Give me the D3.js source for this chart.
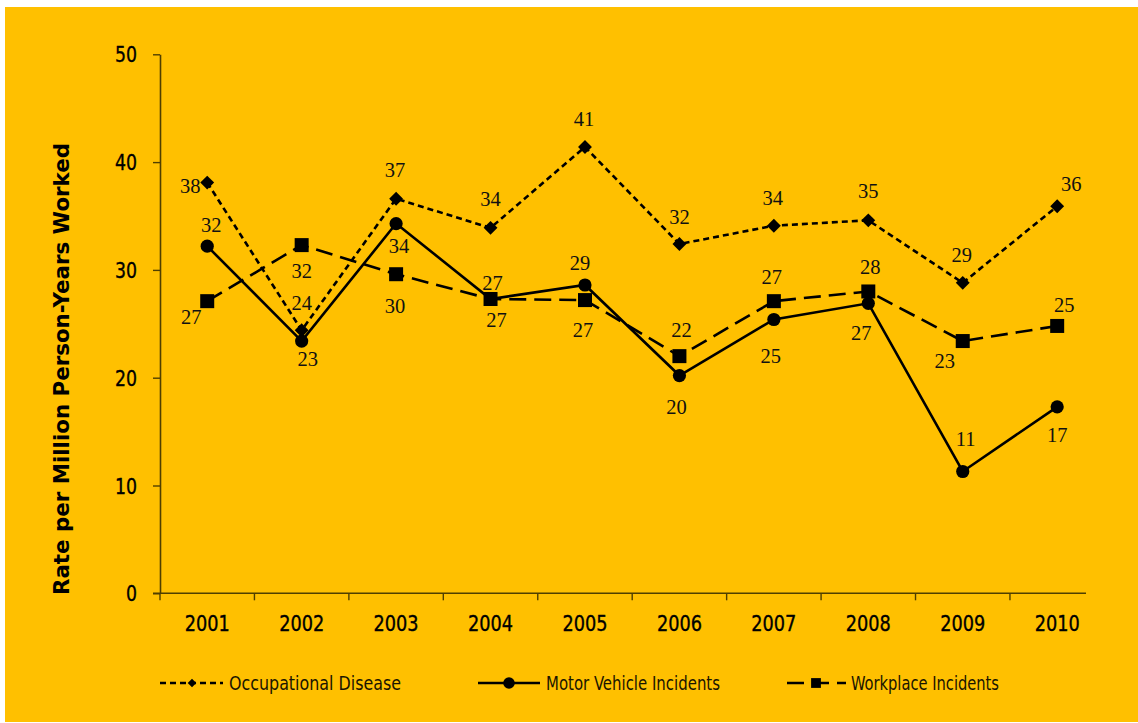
<!DOCTYPE html>
<html>
<head>
<meta charset="utf-8">
<script src="https://cdn.jsdelivr.net/npm/d3@7"></script>
<style>
  html, body { margin: 0; padding: 0; background: #ffffff; }
  svg { display: block; }
</style>
</head>
<body>
<svg id="chart" width="1138" height="723"></svg>
<script>
// Rates per million person-years worked, 2001–2010
const years = ["2001", "2002", "2003", "2004", "2005", "2006", "2007", "2008", "2009", "2010"];
const occupationalDisease = [38.1, 24.4, 36.6, 33.9, 41.4, 32.4, 34.1, 34.6, 28.8, 35.9];
const motorVehicleIncidents = [32.2, 23.4, 34.3, 27.3, 28.6, 20.2, 25.4, 26.9, 11.3, 17.3];
const workplaceIncidents = [27.1, 32.3, 29.6, 27.3, 27.2, 22.0, 27.1, 28.0, 23.4, 24.8];
const yTicks = [0, 10, 20, 30, 40, 50];
const seriesNames = ["Occupational Disease", "Motor Vehicle Incidents", "Workplace Incidents"];
const yTitle = "Rate per Million Person-Years Worked";

// Label placement (dx, dy from each marker centre to its label centre)
const labelShift = {
  occ: [[-17, 4], [0, -27], [-1, -29], [0, -29], [-1, -28], [0, -27], [-1, -28], [0, -29], [-1, -28], [14, -22]],
  mv:  [[4, -21], [6, 18], [3, 23], [2, -16], [-5, -22], [-3, 32], [-3, 37], [-7, 30], [3, -32], [0, 28]],
  wp:  [[-16, 16], [0, 26], [-1, 32], [6, 21], [-2, 30], [2, -26], [-2, -24], [2, -24], [-18, 20], [7, -21]]
};

const svg = d3.select("#chart");

// panel background
svg.append("rect")
  .attr("x", 5).attr("y", 7)
  .attr("width", 1133).attr("height", 715)
  .attr("fill", "#FFC000");

const x = d3.scaleBand().domain(years).range([160, 1104.4]).padding(0);
const y = d3.scaleLinear().domain([0, 50]).range([593.3, 54.3]);
const cx = d => x(d) + x.bandwidth() / 2;

const axisColor = "#4f3f00";
const tickFont = "'DejaVu Sans Condensed', 'DejaVu Sans', sans-serif";

// y axis
const yAxis = svg.append("g")
  .attr("transform", "translate(160,0)")
  .call(d3.axisLeft(y).tickValues(yTicks).tickSize(7).tickSizeOuter(0).tickPadding(16));
yAxis.select(".domain").attr("stroke", axisColor).attr("stroke-width", 1.6);
yAxis.selectAll(".tick line").attr("stroke", axisColor).attr("stroke-width", 1.4);
yAxis.selectAll(".tick text")
  .attr("font-family", tickFont)
  .attr("font-size", 21)
  .attr("fill", "#000")
  .attr("stroke", "#000")
  .attr("stroke-width", 0.35)
  .attr("dy", "0.36em")
  .attr("textLength", 22)
  .attr("lengthAdjust", "spacingAndGlyphs")
  .filter(d => d === 0)
  .attr("textLength", 11);

// x axis: ticks between categories, labels under each category
const xAxis = svg.append("g").attr("transform", "translate(0,593.3)");
xAxis.append("line")
  .attr("x1", 153).attr("x2", 1086)
  .attr("stroke", axisColor).attr("stroke-width", 1.6);
xAxis.selectAll("line.tick")
  .data(years)
  .join("line")
  .attr("class", "tick")
  .attr("x1", d => x(d)).attr("x2", d => x(d))
  .attr("y1", 0).attr("y2", 7)
  .attr("stroke", axisColor).attr("stroke-width", 1.4);
xAxis.selectAll("text")
  .data(years)
  .join("text")
  .attr("x", cx)
  .attr("y", 38)
  .attr("text-anchor", "middle")
  .attr("font-family", tickFont)
  .attr("font-size", 22)
  .attr("fill", "#000")
  .attr("stroke", "#000")
  .attr("stroke-width", 0.35)
  .attr("textLength", 45)
  .attr("lengthAdjust", "spacingAndGlyphs")
  .text(d => d);

// y axis title
svg.append("text")
  .attr("transform", "translate(69,369) rotate(-90)")
  .attr("text-anchor", "middle")
  .attr("font-family", "'DejaVu Sans', sans-serif")
  .attr("font-weight", "bold")
  .attr("font-size", 21)
  .attr("fill", "#000")
  .attr("textLength", 452)
  .attr("lengthAdjust", "spacingAndGlyphs")
  .text(yTitle);

const series = [
  { key: "occ", name: seriesNames[0], values: occupationalDisease, dash: "6,4", marker: "diamond" },
  { key: "mv", name: seriesNames[1], values: motorVehicleIncidents, dash: null, marker: "circle" },
  { key: "wp", name: seriesNames[2], values: workplaceIncidents, dash: "17,8", marker: "square" }
];

const line = d3.line().x((d, i) => cx(years[i])).y(d => y(d));

function drawMarker(g, type, px, py, scale) {
  if (type === "circle") {
    g.append("circle").attr("cx", px).attr("cy", py).attr("r", 6.6 * scale).attr("fill", "#000");
  } else if (type === "square") {
    g.append("path")
      .attr("d", d3.symbol(d3.symbolSquare, 196 * scale * scale)())
      .attr("transform", `translate(${px},${py})`)
      .attr("fill", "#000");
  } else {
    g.append("path")
      .attr("d", d3.symbol(d3.symbolSquare, 96 * scale * scale)())
      .attr("transform", `translate(${px},${py}) rotate(45)`)
      .attr("fill", "#000");
  }
}

const fmt = d3.format(".0f");

series.forEach(s => {
  const g = svg.append("g");
  g.append("path")
    .datum(s.values)
    .attr("d", line)
    .attr("fill", "none")
    .attr("stroke", "#000")
    .attr("stroke-width", 2.6)
    .attr("stroke-dasharray", s.dash);
  s.values.forEach((v, i) => drawMarker(g, s.marker, cx(years[i]), y(v), 1));
});

// value labels
series.forEach(s => {
  svg.append("g")
    .selectAll("text")
    .data(s.values)
    .join("text")
    .attr("x", (v, i) => cx(years[i]) + labelShift[s.key][i][0])
    .attr("y", (v, i) => y(v) + labelShift[s.key][i][1] + 6.8)
    .attr("text-anchor", "middle")
    .attr("font-family", "'Liberation Serif', 'Times New Roman', serif")
    .attr("font-size", 20.5)
    .attr("fill", "#111")
    .text(v => fmt(v));
});

// legend
const legendY = 683;
const legendItems = [
  { s: series[0], x0: 160, x1: 223, mx: 192, tx: 229, tw: 172, ms: 0.62 },
  { s: series[1], x0: 478, x1: 540, mx: 509, tx: 546, tw: 174, ms: 0.88 },
  { s: series[2], x0: 787, x1: 846, mx: 816, tx: 851, tw: 148, ms: 0.7 }
];
legendItems.forEach(it => {
  const g = svg.append("g");
  g.append("line")
    .attr("x1", it.x0).attr("x2", it.x1)
    .attr("y1", legendY).attr("y2", legendY)
    .attr("stroke", "#000").attr("stroke-width", 2.6)
    .attr("stroke-dasharray", it.s.dash);
  drawMarker(g, it.s.marker, it.mx, legendY, it.ms);
  g.append("text")
    .attr("x", it.tx).attr("y", legendY + 6.8)
    .attr("font-family", "'DejaVu Sans Condensed', 'DejaVu Sans', sans-serif")
    .attr("font-size", 19)
    .attr("fill", "#1a1500")
    .attr("textLength", it.tw)
    .attr("lengthAdjust", "spacingAndGlyphs")
    .text(it.s.name);
});
</script>
</body>
</html>
